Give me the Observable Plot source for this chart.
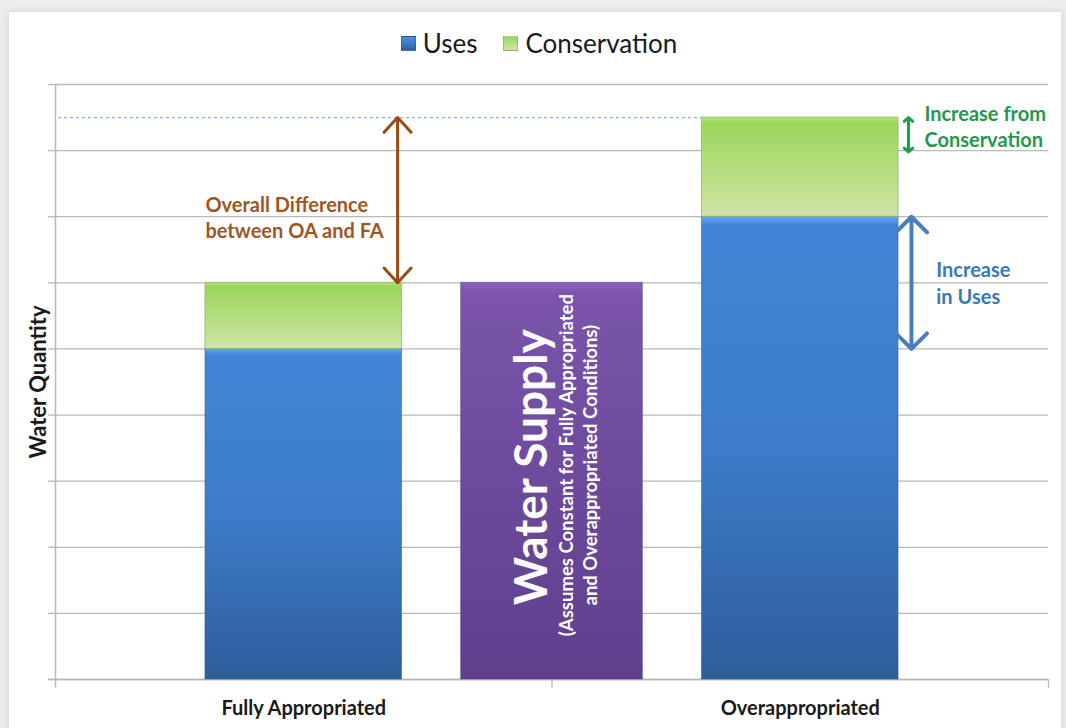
<!DOCTYPE html>
<html>
<head>
<meta charset="utf-8">
<script src="https://cdn.jsdelivr.net/npm/d3@7"></script>
<script src="https://cdn.jsdelivr.net/npm/@observablehq/plot@0.6"></script>
<style>
  html, body { margin: 0; padding: 0; width: 1066px; height: 728px; overflow: hidden; background: #ededed; font-family: Lato, "Open Sans", sans-serif; }
  #sheet { position: absolute; left: 9px; top: 12px; width: 1052px; height: 730px; background: #fff; box-shadow: 0 0 8px rgba(0,0,0,0.12); }
  #legend { position: absolute; left: 0; top: 27px; width: 1066px; display: flex; justify-content: center; align-items: center; gap: 26px; font-size: 26px; color: #1a1a1a; padding-left: 12px; box-sizing: border-box; }
  #legend .item { display: flex; align-items: center; gap: 7px; }
  #legend .sw { width: 15px; height: 15px; border: 1px solid rgba(0,0,0,0.15); box-sizing: border-box; }
  #chart { position: absolute; left: 0; top: 70px; }
</style>
</head>
<body>
<div id="sheet"></div>
<div id="legend"></div>
<div id="chart"></div>
<script>
// ---- data ----
const categories = ["Fully Appropriated", "Overappropriated"];
const uses = [5, 7];
const conservation = [1, 1.5];
const seriesNames = ["Uses", "Conservation"];
const supplyLabel = "Water Supply";
const supplyValue = 6;
const supplyNote = ["(Assumes Constant for Fully Appropriated", "and Overappropriated Conditions)"];
const yTicks = [0, 1, 2, 3, 4, 5, 6, 7, 8, 9];
const yLabel = "Water Quantity";
const annOverall = ["Overall Difference", "between OA and FA"];
const annConservation = ["Increase from", "Conservation"];
const annUses = ["Increase", "in Uses"];
const conservationArrowSpan = 0.52;

// ---- styles ----
const half = 0.198, supplyHalf = 0.183;

const table = categories.map((c, i) => ({
  cat: c, xc: i + 0.5, uses: uses[i], cons: conservation[i], total: uses[i] + conservation[i]
}));
const FA = table[0], OA = table[1];

// legend
const legend = document.getElementById("legend");
["linear-gradient(#4f90e0,#2f629f)", "linear-gradient(#9ad75a,#d2e6ab)"].forEach((g, i) => {
  const it = document.createElement("div");
  it.className = "item";
  it.innerHTML = `<span class="sw" style="background:${g}"></span><span>${seriesNames[i]}</span>`;
  legend.appendChild(it);
});

const xArr = OA.xc + half + 0.02;

const svg = Plot.plot({
  width: 1066,
  height: 658,
  marginLeft: 55,
  marginRight: 18,
  marginTop: 14,
  marginBottom: 49,
  style: { fontFamily: "Lato, 'Open Sans', sans-serif", background: "transparent", overflow: "visible" },
  x: { domain: [0, 2], axis: null },
  y: { domain: [0, 9], axis: null },
  marks: [
    Plot.gridY(yTicks, { stroke: "#b9b9b9", strokeOpacity: 1, strokeWidth: 1.3 }),
    Plot.axisY({ ticks: yTicks, tickSize: 7, tickFormat: () => "", stroke: "#b9b9b9", strokeWidth: 1.3 }),
    Plot.ruleX([0], { y1: -0.13, y2: 9, stroke: "#b9b9b9", strokeWidth: 1.5 }),
    Plot.ruleY([0], { x1: -0.014, x2: 2, stroke: "#b9b9b9", strokeWidth: 1.5 }),
    Plot.ruleX([1, 2], { y1: 0, y2: -0.13, stroke: "#b9b9b9", strokeWidth: 1.3 }),
    // dashed reference line at OA total
    Plot.ruleY([OA.total], { x1: 0.006, x2: OA.xc - half, stroke: "#8db3e2", strokeWidth: 1.2, strokeDasharray: "3,3" }),
    // water supply bar
    Plot.rectY([supplyValue], { x1: 1 - supplyHalf, x2: 1 + supplyHalf, y1: 0, y2: d => d, fill: "url(#gPurple)", stroke: "#5a3a80", strokeOpacity: 0.5 }),
    // uses
    Plot.rectY(table, { x1: d => d.xc - half, x2: d => d.xc + half, y1: 0, y2: "uses", fill: "url(#gBlue)", stroke: "#2d5a92", strokeOpacity: 0.5 }),
    // conservation
    Plot.rectY(table, { x1: d => d.xc - half, x2: d => d.xc + half, y1: "uses", y2: "total", fill: "url(#gGreen)", stroke: "#8fb870", strokeOpacity: 0.8 }),
    // x category labels
    Plot.text(table, { x: "xc", y: 0, text: "cat", dy: 29, fontSize: 20, fontWeight: "bold", fill: "#1a1a1a" }),
    // y label
    Plot.text([yLabel], { frameAnchor: "left", textAnchor: "middle", rotate: -90, dx: -17, fontSize: 22, fontWeight: "bold", fill: "#1a1a1a" }),
    // water supply texts
    Plot.text([supplyLabel], { x: 1, y: supplyValue / 2, rotate: -90, dx: -20, dy: -14, fontSize: 46, fontWeight: "bold", fill: "#ffffff" }),
    Plot.text([supplyNote.join("\n")], { x: 1, y: supplyValue / 2, rotate: -90, dx: 25, dy: -16, fontSize: 18.5, fontWeight: "bold", lineHeight: 1.3, fill: "#ffffff" }),
    // overall difference arrow (brown)
    Plot.arrow([[OA.total, 4], [FA.total, 2]], {
      x1: FA.xc + half - 0.009, x2: FA.xc + half - 0.009,
      y1: (OA.total + FA.total) / 2, y2: d => d[0], insetEnd: d => d[1],
      stroke: "#9b4a12", strokeWidth: 3, headLength: 10, headAngle: 85, bend: 0
    }),
    Plot.text([annOverall.join("\n")], { x: FA.xc - half, y: 7, textAnchor: "start", fontSize: 20, fontWeight: "bold", lineHeight: 1.3, fill: "#a0561f" }),
    // conservation arrow (green)
    Plot.arrow([OA.total, OA.total - conservationArrowSpan], {
      x1: xArr, x2: xArr,
      y1: OA.total - conservationArrowSpan / 2, y2: d => d,
      stroke: "#1aa04a", strokeWidth: 3, headLength: 8, headAngle: 95, bend: 0
    }),
    Plot.text([annConservation.join("\n")], { x: OA.xc + half + 0.052, y: OA.total - 0.13, textAnchor: "start", fontSize: 20, fontWeight: "bold", lineHeight: 1.3, fill: "#1f9a4c" }),
    // uses arrow (blue)
    Plot.arrow([[OA.uses, 3], [FA.uses, 2]], {
      x1: xArr + 0.006, x2: xArr + 0.006,
      y1: (OA.uses + FA.uses) / 2, y2: d => d[0], insetEnd: d => d[1],
      stroke: "#4a7dbd", strokeWidth: 4, headLength: 12, headAngle: 90, bend: 0
    }),
    Plot.text([annUses.join("\n")], { x: OA.xc + half + 0.076, y: 6.02, textAnchor: "start", fontSize: 20, fontWeight: "bold", lineHeight: 1.35, fill: "#3a78b8" })
  ]
});

svg.insertAdjacentHTML("afterbegin", `
<defs>
  <linearGradient id="gBlue" x1="0" y1="0" x2="0" y2="1">
    <stop offset="0" stop-color="#66a6ee"/>
    <stop offset="0.02" stop-color="#4186d6"/>
    <stop offset="0.5" stop-color="#3c7cca"/>
    <stop offset="1" stop-color="#2e5d9b"/>
  </linearGradient>
  <linearGradient id="gGreen" x1="0" y1="0" x2="0" y2="1">
    <stop offset="0" stop-color="#b5e67c"/>
    <stop offset="0.06" stop-color="#9ad75a"/>
    <stop offset="1" stop-color="#d0e4a8"/>
  </linearGradient>
  <linearGradient id="gPurple" x1="0" y1="0" x2="0" y2="1">
    <stop offset="0" stop-color="#8a63bb"/>
    <stop offset="0.03" stop-color="#7a55ab"/>
    <stop offset="1" stop-color="#5f3f8c"/>
  </linearGradient>
</defs>`);

document.getElementById("chart").appendChild(svg);
</script>
</body>
</html>
